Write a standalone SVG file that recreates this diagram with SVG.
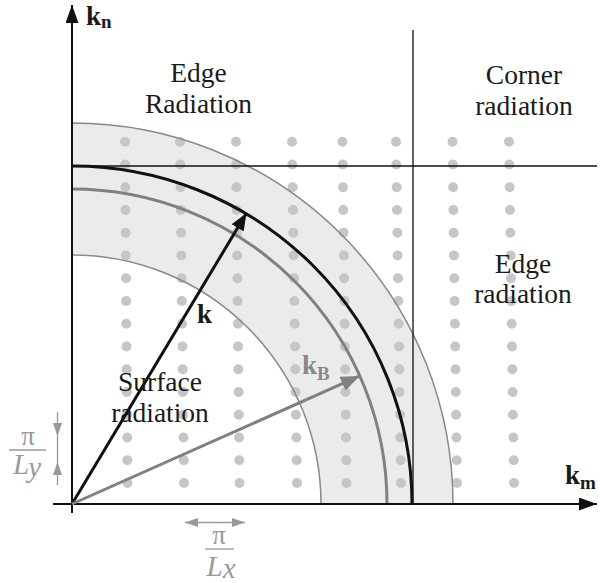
<svg xmlns="http://www.w3.org/2000/svg" xmlns:xlink="http://www.w3.org/1999/xlink" width="600" height="583" viewBox="0 0 600 583">
<style>
.lbl{font-family:"Liberation Serif","Times New Roman",serif;font-size:27.5px;fill:#1a1a1a;text-anchor:middle}
.kb{font-family:"Liberation Serif","Times New Roman",serif;font-weight:bold;font-size:27px;fill:#1a1a1a}
.sub{font-size:19px}
.frac{font-family:"Liberation Serif","Times New Roman",serif;font-size:27px;fill:#999;text-anchor:middle}
.it{font-style:italic;font-size:29px}
.dot{fill:#c6c6c6}
.thin{fill:none;stroke:#888;stroke-width:1.5}
</style>
<defs>
<g id="col">
<circle class="dot" cx="0" cy="141.7" r="5"/><circle class="dot" cx="0" cy="164.45" r="5"/><circle class="dot" cx="0" cy="187.2" r="5"/><circle class="dot" cx="0" cy="209.95" r="5"/><circle class="dot" cx="0" cy="232.7" r="5"/><circle class="dot" cx="0" cy="255.45" r="5"/><circle class="dot" cx="0" cy="278.2" r="5"/><circle class="dot" cx="0" cy="300.95" r="5"/><circle class="dot" cx="0" cy="323.7" r="5"/><circle class="dot" cx="0" cy="346.45" r="5"/><circle class="dot" cx="0" cy="369.2" r="5"/><circle class="dot" cx="0" cy="391.95" r="5"/><circle class="dot" cx="0" cy="414.7" r="5"/><circle class="dot" cx="0" cy="437.45" r="5"/><circle class="dot" cx="0" cy="460.2" r="5"/><circle class="dot" cx="0" cy="482.95" r="5"/>
</g>
<marker id="ahB" markerUnits="userSpaceOnUse" markerWidth="20" markerHeight="16" refX="17" refY="7" orient="auto"><path d="M0,0 L17,7 L0,14 Z" fill="#111"/></marker>
<marker id="ahG" markerUnits="userSpaceOnUse" markerWidth="22" markerHeight="16" refX="19" refY="7.5" orient="auto"><path d="M0,0 L19,7.5 L0,15 Z" fill="#808080"/></marker>
<marker id="ahAx" markerUnits="userSpaceOnUse" markerWidth="20" markerHeight="14" refX="18" refY="6.5" orient="auto"><path d="M0,0 L18,6.5 L0,13 Z" fill="#111"/></marker>
<marker id="ahS" markerUnits="userSpaceOnUse" markerWidth="14" markerHeight="10" refX="13" refY="4.5" orient="auto"><path d="M0,0 L13,4.5 L0,9 Z" fill="#999"/></marker>
</defs>

<g id="band">
<path d="M72,123 A381,381 0 0 1 453,504 L321,504 A249,249 0 0 0 72,255 Z" fill="#ebebeb"/>
</g>

<g id="dots">
<use xlink:href="#col" transform="matrix(1,0,0.007326,1,123.962,0)"/>
<use xlink:href="#col" transform="matrix(1,0,0.011722,1,178.339,0)"/>
<use xlink:href="#col" transform="matrix(1,0,0.010256,1,234.547,0)"/>
<use xlink:href="#col" transform="matrix(1,0,0.014652,1,289.924,0)"/>
<use xlink:href="#col" transform="matrix(1,0,0.011722,1,340.839,0)"/>
<use xlink:href="#col" transform="matrix(1,0,0.014652,1,393.924,0)"/>
<use xlink:href="#col" transform="matrix(1,0,0.013187,1,450.631,0)"/>
<use xlink:href="#col" transform="matrix(1,0,0.014652,1,506.924,0)"/>
</g>

<g id="connectors">
<path class="thin" d="M72,123 A381,381 0 0 1 453,504"/>
<path class="thin" d="M72,255 A249,249 0 0 1 321,504"/>
<path d="M72,189 A315,315 0 0 1 387,504" fill="none" stroke="#808080" stroke-width="3"/>
<line x1="72" y1="166" x2="597" y2="166" stroke="#111" stroke-width="1.3"/>
<line x1="413" y1="30" x2="413" y2="504" stroke="#111" stroke-width="1.3"/>
<path d="M72,166 A340,338 0 0 1 412,504" fill="none" stroke="#111" stroke-width="3"/>
<line x1="72" y1="513" x2="72" y2="5" stroke="#111" stroke-width="2" marker-end="url(#ahAx)"/>
<line x1="53" y1="504" x2="597" y2="504" stroke="#111" stroke-width="2" marker-end="url(#ahAx)"/>
<line x1="72" y1="504" x2="246.4" y2="213.3" stroke="#111" stroke-width="3" marker-end="url(#ahB)"/>
<line x1="72" y1="504" x2="359.8" y2="375.9" stroke="#808080" stroke-width="3" marker-end="url(#ahG)"/>
<line x1="57.5" y1="412" x2="57.5" y2="436" stroke="#999" stroke-width="1.3" marker-end="url(#ahS)"/>
<line x1="57.5" y1="485" x2="57.5" y2="462" stroke="#999" stroke-width="1.3" marker-end="url(#ahS)"/>
<line x1="57.5" y1="436" x2="57.5" y2="462" stroke="#999" stroke-width="1.3"/>
<line x1="215" y1="522.5" x2="185" y2="522.5" stroke="#999" stroke-width="1.5" marker-end="url(#ahS)"/>
<line x1="215" y1="522.5" x2="245" y2="522.5" stroke="#999" stroke-width="1.5" marker-end="url(#ahS)"/>
</g>

<g id="edge-top">
<text class="lbl" x="198.5" y="82">Edge</text>
<text class="lbl" x="198.5" y="113">Radiation</text>
</g>
<g id="corner">
<text class="lbl" x="524" y="84">Corner</text>
<text class="lbl" x="524" y="115">radiation</text>
</g>
<g id="edge-right">
<text class="lbl" x="523" y="273">Edge</text>
<text class="lbl" x="523" y="303">radiation</text>
</g>
<g id="surface">
<text class="lbl" x="160" y="391">Surface</text>
<text class="lbl" x="160" y="422">radiation</text>
</g>

<g id="axis-labels">
<text class="kb" x="86" y="25">k<tspan class="sub" dy="3">n</tspan></text>
<text class="kb" x="565" y="484">k<tspan class="sub" dy="5">m</tspan></text>
<text class="kb" x="197" y="323">k</text>
<text class="kb" x="302" y="374" style="fill:#888">k<tspan class="sub" dy="6">B</tspan></text>
</g>

<g id="frac-y">
<text class="frac" x="28" y="445">π</text>
<line x1="9" y1="450" x2="46" y2="450" stroke="#999" stroke-width="1.3"/>
<text class="frac it" x="27" y="474">L<tspan dy="3">y</tspan></text>
</g>
<g id="frac-x">
<text class="frac" x="219" y="544">π</text>
<line x1="205" y1="549" x2="234" y2="549" stroke="#999" stroke-width="1.3"/>
<text class="frac it" x="221" y="576">L<tspan dy="2">x</tspan></text>
</g>
</svg>
